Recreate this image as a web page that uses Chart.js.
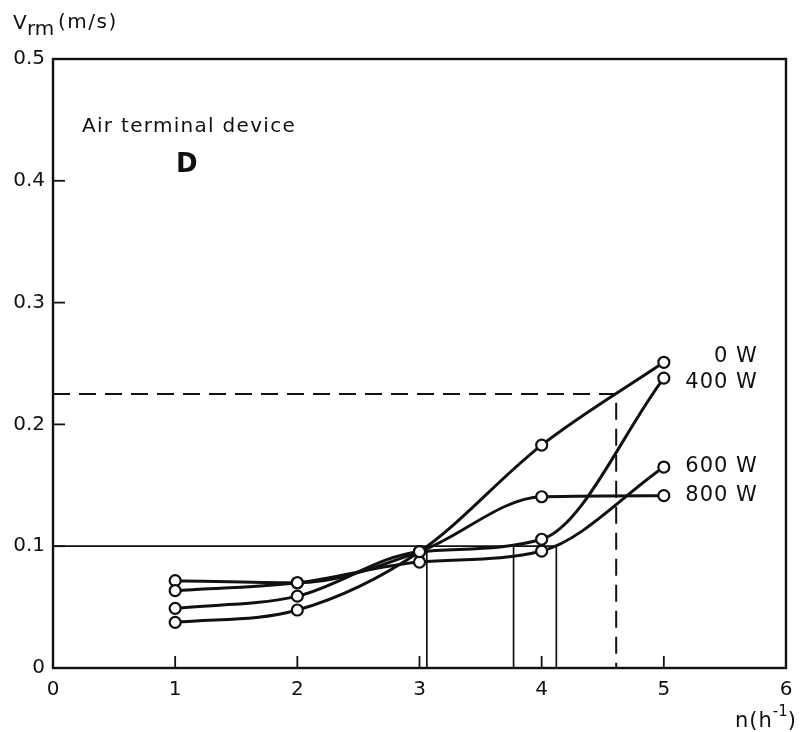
<!DOCTYPE html>
<html>
<head>
<meta charset="utf-8">
<script src="https://cdn.jsdelivr.net/npm/chart.js@4/dist/chart.umd.min.js"></script>
<style>
  html, body { margin: 0; padding: 0; background: #fff; }
  #wrap { width: 803px; height: 732px; }
</style>
</head>
<body>
<div id="wrap"><canvas id="chart" width="803" height="732"></canvas></div>
<script>
// Data
const nValues = [1, 2, 3, 4, 5];
const v0W   = [0.0375, 0.0476, 0.0955, 0.183, 0.251];
const v400W = [0.049, 0.059, 0.0955, 0.1057, 0.238];
const v600W = [0.0635, 0.070, 0.087, 0.096, 0.165];
const v800W = [0.0717, 0.070, 0.0955, 0.1406, 0.1415];
const seriesNames = ['0 W', '400 W', '600 W', '800 W'];
const seriesValues = [v0W, v400W, v600W, v800W];

// Axis ranges / ticks
const xMin = 0, xMax = 6, xStep = 1;
const yMin = 0, yMax = 0.5, yStep = 0.1;

// Construction lines
const solidLevel = 0.1;
const solidEnd = 4.12;
const solidDrops = [3.06, 3.77, 4.12];
const dashedLevel = 0.225;
const dashedDrop = 4.61;

const FONT = '"DejaVu Sans", sans-serif';
const INK = '#111';

function pts(xs, ys) {
    return xs.map((x, i) => ({ x: x, y: ys[i] }));
}

const datasets = [];

// solid horizontal at 0.1 and its verticals
datasets.push({
    data: [{ x: xMin, y: solidLevel }, { x: solidEnd, y: solidLevel }],
    borderColor: INK, borderWidth: 1.7, pointRadius: 0, tension: 0
});
for (const d of solidDrops) {
    datasets.push({
        data: [{ x: d, y: yMin }, { x: d, y: solidLevel }],
        borderColor: INK, borderWidth: 1.7, pointRadius: 0, tension: 0
    });
}
// dashed construction
datasets.push({
    data: [{ x: xMin, y: dashedLevel }, { x: dashedDrop, y: dashedLevel }, { x: dashedDrop, y: yMin }],
    borderColor: INK, borderWidth: 2, borderDash: [17, 9], pointRadius: 0, tension: 0
});

// measured curves
seriesValues.forEach((vals, i) => {
    datasets.push({
        label: seriesNames[i],
        data: pts(nValues, vals),
        borderColor: INK,
        borderWidth: 3,
        cubicInterpolationMode: 'monotone',
        pointRadius: 5.5,
        pointBorderWidth: 2.2,
        pointBackgroundColor: '#fff',
        pointBorderColor: INK,
        isSeries: true
    });
});

// label nudges for the right-hand series names
const labelDy = { '0 W': -6, '400 W': 4, '600 W': 0, '800 W': 0 };

const framePlugin = {
    id: 'frame',
    afterDraw(chart) {
        const { ctx, chartArea: a, scales } = chart;
        ctx.save();
        ctx.strokeStyle = INK;
        ctx.lineWidth = 2.4;
        ctx.strokeRect(a.left, a.top, a.right - a.left, a.bottom - a.top);

        // inward tick marks
        ctx.lineWidth = 1.8;
        const tl = 12;
        scales.x.ticks.forEach(t => {
            if (t.value <= xMin || t.value >= xMax) return;
            const px = scales.x.getPixelForValue(t.value);
            ctx.beginPath();
            ctx.moveTo(px, a.bottom);
            ctx.lineTo(px, a.bottom - tl);
            ctx.stroke();
        });
        scales.y.ticks.forEach(t => {
            if (t.value <= yMin + 1e-9 || t.value >= yMax - 1e-9) return;
            const py = scales.y.getPixelForValue(t.value);
            ctx.beginPath();
            ctx.moveTo(a.left, py);
            ctx.lineTo(a.left + tl, py);
            ctx.stroke();
        });

        ctx.fillStyle = INK;
        ctx.textBaseline = 'alphabetic';

        // y axis title: V_rm (m/s)
        ctx.textAlign = 'left';
        ctx.font = '20px ' + FONT;
        ctx.fillText('V', 13, 29);
        ctx.fillText('rm', 27, 35);
        ctx.letterSpacing = '1.5px';
        ctx.fillText('(m/s)', 58, 28);
        ctx.letterSpacing = '0px';

        // x axis title: n(h^-1)
        ctx.textAlign = 'right';
        ctx.font = '21px ' + FONT;
        const closeW = ctx.measureText(')').width;
        ctx.fillText(')', 796, 727);
        ctx.font = '15px ' + FONT;
        const supW = ctx.measureText('-1').width;
        ctx.fillText('-1', 796 - closeW, 716);
        ctx.font = '21px ' + FONT;
        ctx.letterSpacing = '1px';
        ctx.fillText('n(h', 796 - closeW - supW, 727);
        ctx.letterSpacing = '0px';

        // annotation
        ctx.textAlign = 'left';
        ctx.font = '20px ' + FONT;
        ctx.letterSpacing = '1.3px';
        ctx.fillText('Air terminal device', 82, 132);
        ctx.letterSpacing = '0px';
        ctx.font = 'bold 26px ' + FONT;
        ctx.fillText('D', 176, 172);

        // series names at the right end of each curve
        ctx.font = '21px ' + FONT;
        ctx.letterSpacing = '1px';
        ctx.textAlign = 'right';
        ctx.textBaseline = 'middle';
        chart.data.datasets.forEach((ds, i) => {
            if (!ds.isSeries) return;
            const meta = chart.getDatasetMeta(i);
            const last = meta.data[meta.data.length - 1];
            ctx.fillText(ds.label, last.x + 94, last.y + (labelDy[ds.label] || 0));
        });
        ctx.restore();
    }
};

new Chart(document.getElementById('chart'), {
    type: 'line',
    data: { datasets: datasets },
    options: {
        responsive: false,
        animation: false,
        layout: { padding: { left: 0, right: 17, top: 59, bottom: 0 } },
        plugins: { legend: { display: false }, tooltip: { enabled: false } },
        scales: {
            x: {
                type: 'linear', min: xMin, max: xMax,
                ticks: { stepSize: xStep, color: INK, font: { family: FONT, size: 20 }, padding: 10, maxRotation: 0 },
                grid: { display: false, drawTicks: false },
                border: { display: false },
                afterFit(s) { s.height = 64; }
            },
            y: {
                type: 'linear', min: yMin, max: yMax,
                ticks: { stepSize: yStep, color: INK, font: { family: FONT, size: 20 }, padding: 8 },
                grid: { display: false, drawTicks: false },
                border: { display: false },
                afterFit(s) { s.width = 53; }
            }
        }
    },
    plugins: [framePlugin]
});
</script>
</body>
</html>
